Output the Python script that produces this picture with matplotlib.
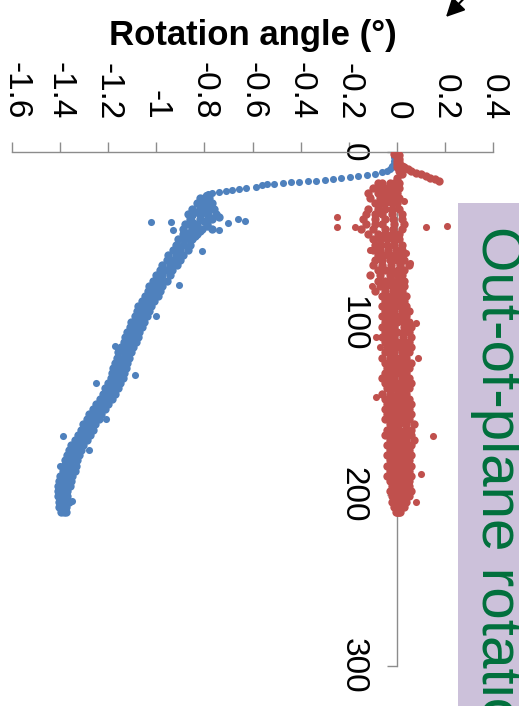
import matplotlib
matplotlib.use("Agg")
import matplotlib.pyplot as plt
from matplotlib.patches import Rectangle
from matplotlib.transforms import ScaledTranslation

plt.rcParams['font.family'] = ['Liberation Sans', 'DejaVu Sans']

BLUE = '#4F81BD'
RED = '#C0504D'
GREY = '#8C8C8C'

# --- data (time in s, angle in degrees) ---
# blue: steep drop in the first ~25 s
blue_head_t = [0, 1, 2, 3, 4, 5, 6, 7, 8, 9, 10, 11, 11.7, 12.6, 13.4, 14.0, 14.6, 15.2, 15.7,
               16.3, 16.9, 17.2, 17.5, 17.8, 18.1, 18.4, 18.7, 19.5, 20.4, 21.0, 21.6, 22.2,
               22.8, 23.3, 23.9, 24.5, 25.2]
blue_head_a = [0.0, -0.01, 0.01, -0.01, 0.0, -0.01, 0.0, -0.01, -0.02, -0.02, -0.03, -0.04,
               -0.06, -0.09, -0.125, -0.16, -0.195, -0.23, -0.265, -0.30, -0.335, -0.37, -0.405,
               -0.44, -0.475, -0.51, -0.54, -0.56, -0.585, -0.625, -0.655, -0.685, -0.71, -0.74,
               -0.77, -0.785, -0.795]

# blue band (low edge, middle, high edge)
blue_t = [27, 30, 33, 36, 39, 42, 45, 48, 51, 54, 57, 60, 63, 66, 69, 72, 75, 78, 81, 84, 87,
          90, 93, 96, 99, 102, 105, 108, 111, 114, 117, 120, 123, 126, 129, 132, 135, 138, 141,
          144, 147, 150, 153, 156, 159, 162, 165, 168, 171, 174, 177, 180, 183, 186, 189, 192,
          195, 198, 201, 204, 207, 210]
blue_mid = [-0.80, -0.80, -0.81, -0.82, -0.82, -0.83, -0.85, -0.86, -0.88, -0.89, -0.90, -0.92,
            -0.93, -0.945, -0.96, -0.975, -0.985, -1.00, -1.01, -1.02, -1.035, -1.045, -1.055,
            -1.065, -1.075, -1.085, -1.095, -1.10, -1.11, -1.12, -1.13, -1.14, -1.145, -1.15,
            -1.16, -1.165, -1.175, -1.185, -1.195, -1.21, -1.225, -1.24, -1.255, -1.265, -1.28,
            -1.29, -1.30, -1.315, -1.33, -1.34, -1.345, -1.355, -1.36, -1.365, -1.375, -1.38,
            -1.385, -1.39, -1.39, -1.385, -1.39, -1.385]
blue_lo = [-0.82, -0.83, -0.85, -0.87, -0.86, -0.87, -0.89, -0.89, -0.91, -0.92, -0.93, -0.95,
           -0.955, -0.975, -0.985, -1.0, -1.015, -1.03, -1.035, -1.045, -1.06, -1.075, -1.08,
           -1.09, -1.105, -1.11, -1.12, -1.13, -1.135, -1.145, -1.16, -1.165, -1.17, -1.18,
           -1.185, -1.19, -1.2, -1.215, -1.22, -1.235, -1.25, -1.265, -1.28, -1.29, -1.305,
           -1.315, -1.325, -1.34, -1.355, -1.365, -1.37, -1.38, -1.385, -1.39, -1.40, -1.405,
           -1.41, -1.41, -1.41, -1.405, -1.405, -1.395]
blue_hi = [-0.78, -0.77, -0.76, -0.75, -0.77, -0.79, -0.81, -0.83, -0.85, -0.86, -0.87, -0.89,
           -0.90, -0.915, -0.935, -0.945, -0.955, -0.975, -0.985, -0.995, -1.01, -1.02, -1.03,
           -1.04, -1.05, -1.06, -1.07, -1.075, -1.085, -1.095, -1.105, -1.115, -1.12, -1.125,
           -1.135, -1.14, -1.15, -1.16, -1.17, -1.185, -1.2, -1.215, -1.23, -1.24, -1.255,
           -1.265, -1.275, -1.29, -1.305, -1.315, -1.32, -1.33, -1.335, -1.34, -1.35, -1.355,
           -1.36, -1.37, -1.37, -1.365, -1.375, -1.375]
# dense knot of points around 30-50 s
blue_knot_t = [31, 32, 34, 35, 36, 37, 38, 40, 41, 43, 44, 46, 47, 49, 50, 38, 42, 45]
blue_knot_a = [-0.79, -0.82, -0.78, -0.84, -0.79, -0.85, -0.78, -0.80, -0.85, -0.79, -0.84,
               -0.82, -0.87, -0.84, -0.86, -0.74, -0.88, -0.77]
blue_out_t = [41, 41, 45.5, 41.5, 39, 40, 45.5, 58, 77.5, 135, 156, 166, 174, 183, 203.5, 130, 113, 96]
blue_out_a = [-1.02, -0.94, -0.93, -0.70, -0.66, -0.63, -0.74, -0.81, -0.905, -1.25, -1.21,
              -1.39, -1.28, -1.40, -1.35, -1.09, -1.17, -1.0]

# red: small spike at start, then noisy band around zero
red_head_t = [0, 1, 2, 3, 4, 5, 6, 7, 8, 9, 10, 11, 12, 13, 14, 15, 16, 16.8, 9, 11, 13, 15]
red_head_a = [0.0, -0.01, 0.01, 0.0, 0.01, 0.0, 0.01, 0.0, 0.02, 0.03, 0.045, 0.06, 0.08, 0.10,
              0.12, 0.14, 0.16, 0.175, 0.0, 0.01, 0.02, 0.0]
red_t = [18, 21, 24, 27, 30, 33, 36, 39, 42, 45, 48, 51, 54, 57, 60, 63, 66, 69, 72, 75, 78, 81,
         84, 87, 90, 93, 96, 99, 102, 105, 108, 111, 114, 117, 120, 123, 126, 129, 132, 135,
         138, 141, 144, 147, 150, 153, 156, 159, 162, 165, 168, 171, 174, 177, 180, 183, 186,
         189, 192, 195, 198, 201, 204, 207, 210]
red_mid = [-0.03, -0.04, -0.05, -0.04, -0.05, -0.05, -0.06, -0.05, -0.06, -0.05,
           -0.05, -0.04, -0.04, -0.035, -0.03, -0.03, -0.025, -0.02, -0.03, -0.02,
           -0.02, -0.015, -0.015, -0.01, -0.01, -0.01, -0.01, 0.0, -0.01, 0.0,
           -0.01, 0.0, 0.0, -0.01, 0.0, 0.0, 0.0, 0.0, -0.01, 0.0,
           0.0, 0.0, 0.0, 0.01, 0.0, 0.01, 0.0, 0.01, 0.01, 0.0,
           0.01, 0.01, 0.01, 0.01, 0.0, 0.01, 0.01, 0.0, 0.01, 0.01,
           0.01, 0.01, 0.01, 0.01, 0.005]
red_lo = [-0.08, -0.10, -0.12, -0.11, -0.09, -0.12, -0.13, -0.14, -0.13, -0.15,
          -0.12, -0.10, -0.09, -0.10, -0.08, -0.09, -0.10, -0.08, -0.11, -0.08,
          -0.07, -0.09, -0.06, -0.05, -0.06, -0.05, -0.06, -0.05, -0.06, -0.05,
          -0.06, -0.05, -0.04, -0.05, -0.06, -0.05, -0.04, -0.05, -0.06, -0.05,
          -0.04, -0.06, -0.05, -0.04, -0.05, -0.04, -0.05, -0.03, -0.04, -0.05,
          -0.03, -0.04, -0.03, -0.04, -0.03, -0.04, -0.03, -0.04, -0.03, -0.02,
          -0.03, -0.02, -0.02, -0.01, -0.005]
red_in = [-0.06, -0.07, -0.08, -0.07, -0.07, -0.08, -0.09, -0.09, -0.09, -0.10,
          -0.08, -0.07, -0.065, -0.07, -0.055, -0.06, -0.06, -0.05, -0.07, -0.05,
          -0.045, -0.05, -0.04, -0.035, -0.035, -0.03, -0.035, -0.03, -0.035, -0.025,
          -0.035, -0.025, -0.02, -0.03, -0.03, -0.025, -0.02, -0.025, -0.035, -0.025,
          -0.02, -0.03, -0.025, -0.015, -0.025, -0.015, -0.025, -0.01, -0.015, -0.025,
          -0.01, -0.015, -0.01, -0.015, -0.015, -0.015, -0.01, -0.02, -0.01, -0.005,
          -0.01, -0.005, -0.005, 0.0, 0.0]
red_in2 = [-0.01, -0.015, -0.02, -0.015, -0.02, -0.02, -0.02, -0.015, -0.01, -0.015,
           -0.02, -0.015, -0.01, -0.005, -0.005, 0.0, 0.015, 0.005, 0.0, 0.005,
           0.005, 0.005, 0.015, 0.01, 0.015, 0.02, 0.015, 0.025, 0.03, 0.025,
           0.025, 0.025, 0.03, 0.02, 0.02, 0.03, 0.025, 0.02, 0.02, 0.03,
           0.025, 0.02, 0.025, 0.035, 0.025, 0.035, 0.025, 0.04, 0.035, 0.03,
           0.04, 0.035, 0.03, 0.035, 0.025, 0.035, 0.03, 0.03, 0.03, 0.03,
           0.035, 0.03, 0.025, 0.02, 0.01]
red_hi = [0.01, 0.01, 0.0, 0.01, 0.0, 0.01, 0.02, 0.02, 0.03, 0.02,
          0.01, 0.01, 0.02, 0.02, 0.02, 0.03, 0.05, 0.03, 0.02, 0.03,
          0.03, 0.02, 0.04, 0.03, 0.04, 0.05, 0.04, 0.05, 0.06, 0.05,
          0.06, 0.05, 0.06, 0.05, 0.04, 0.06, 0.05, 0.04, 0.05, 0.06,
          0.05, 0.04, 0.05, 0.06, 0.05, 0.06, 0.05, 0.07, 0.06, 0.06,
          0.07, 0.06, 0.05, 0.06, 0.05, 0.06, 0.05, 0.06, 0.05, 0.05,
          0.06, 0.05, 0.04, 0.03, 0.015]
red_out_t = [38, 44, 44, 43, 44, 28.5, 26, 108, 114, 143, 166, 188, 204, 57, 78, 59, 65, 120, 100]
red_out_a = [-0.25, -0.25, -0.175, 0.21, 0.12, 0.03, -0.11, -0.085, -0.07, -0.085, 0.15, 0.10,
             0.08, -0.11, -0.105, 0.04, 0.055, 0.09, 0.08]

angle_ticks = [-1.6, -1.4, -1.2, -1.0, -0.8, -0.6, -0.4, -0.2, 0.0, 0.2, 0.4]
angle_labels = ['-1.6', '-1.4', '-1.2', '-1', '-0.8', '-0.6', '-0.4', '-0.2', '0', '0.2', '0.4']
time_ticks = [0, 100, 200, 300]
time_labels = ['0', '100', '200', '300']

W, H = 519, 706
fig = plt.figure(figsize=(W / 100, H / 100), dpi=100)
ax = fig.add_axes([12 / W, 1 - 666 / H, (493 - 12) / W, (666 - 152) / H])

big = dict(s=36, linewidths=0, zorder=3)
small = dict(s=26, linewidths=0, zorder=3)
for a_list in (blue_lo, blue_mid, blue_hi):
    ax.scatter(a_list, blue_t, color=BLUE, **big)
ax.scatter(blue_knot_a, blue_knot_t, color=BLUE, **big)
ax.scatter(blue_head_a, blue_head_t, color=BLUE, **small)
ax.scatter(blue_out_a, blue_out_t, color=BLUE, **small)
for a_list in (red_lo, red_in, red_mid, red_in2, red_hi):
    ax.scatter(a_list, red_t, color=RED, **big)
ax.scatter(red_head_a, red_head_t, color=RED, **big)
ax.scatter(red_out_a, red_out_t, color=RED, **small)

ax.set_xlim(-1.6, 0.4)
ax.set_ylim(300, 0)
ax.patch.set_visible(False)

for s in ('right', 'bottom'):
    ax.spines[s].set_visible(False)
ax.spines['left'].set_position(('data', 0))
for s in ('left', 'top'):
    ax.spines[s].set_color(GREY)
    ax.spines[s].set_linewidth(1.0)

ax.xaxis.tick_top()
ax.set_xticks(angle_ticks, angle_labels)
ax.set_yticks(time_ticks, time_labels)
ax.tick_params(axis='x', direction='out', length=7.2, width=1, color=GREY, pad=16,
               labelsize=24, labelrotation=-90)
ax.tick_params(axis='y', direction='out', length=7.2, width=1, color=GREY, pad=13,
               labelsize=24, labelrotation=-90)
for lab in ax.get_yticklabels():
    lab.set_va('center')
# nudge the leftmost label so it stays inside the picture
first = ax.xaxis.get_major_ticks()[0].label2
first.set_transform(first.get_transform() + ScaledTranslation(3 / 72, 0, fig.dpi_scale_trans))

fig.text(253 / W, 1 - 36 / H, 'Rotation angle (°)', ha='center', va='center',
         fontsize=25, fontweight='bold')

# side label box
fig.add_artist(Rectangle((458 / W, 0), 1, 1 - 203 / H, transform=fig.transFigure,
                         facecolor='#CCC1DA', edgecolor='none', zorder=0))
fig.text(482 / W, 1 - 226 / H, 'Out-of-plane rotation', rotation=-90, rotation_mode='anchor',
         ha='left', va='baseline', fontsize=42, color='#00703C')

# arrow coming in from the top edge
ax.annotate('', xy=(444, H - 19), xycoords='figure pixels',
            xytext=(482, H + 20), textcoords='figure pixels',
            arrowprops=dict(arrowstyle='-|>', color='black', lw=1.5, mutation_scale=28),
            annotation_clip=False)

fig.savefig('out.png', dpi=100)
